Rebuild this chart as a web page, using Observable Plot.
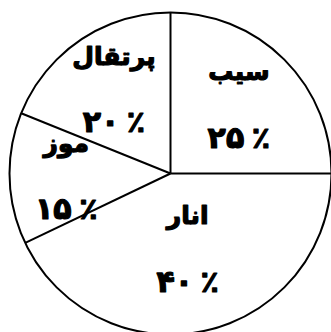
<!DOCTYPE html>
<html><head><meta charset="utf-8">
<script src="https://cdn.jsdelivr.net/npm/d3@7"></script>
<script src="https://cdn.jsdelivr.net/npm/@observablehq/plot@0.6"></script>
<style>html,body{margin:0;padding:0;background:#fff} svg{display:block}</style>
</head><body><div id="chart"></div>
<script>
// Fruits, clockwise from 12 o'clock
const fruits = ["سیب", "انار", "موز", "پرتقال"];
// Percentages printed in the picture
const percents = [25, 40, 15, 20];
// Slice sizes as actually drawn in the picture (percent of the circle)
const sliceShares = [25, 42.9, 13.2, 18.9];

const R = 161;
const fa = n => String(n).replace(/\d/g, c => "۰۱۲۳۴۵۶۷۸۹"[c]);

const rows = fruits.map((name, i) => ({name, pct: percents[i], share: sliceShares[i]}));
const arcs = d3.pie().sort(null).value(d => d.share)(rows);
const boundaries = arcs.map(a => ({x: R * Math.sin(a.startAngle), y: R * Math.cos(a.startAngle)}));
const labels = arcs.map(a => {
  const t = a.endAngle - a.startAngle, m = (a.startAngle + a.endAngle) / 2;
  const d = 4 * R * Math.sin(t / 2) / (3 * t);
  return {name: a.data.name, pct: fa(a.data.pct) + "\u2005٪", x: d * Math.sin(m), y: d * Math.cos(m)};
});

const chart = Plot.plot({
  width: 331, height: 332, margin: 0,
  style: {fontFamily: "'DejaVu Sans', sans-serif", background: "#fff", color: "#000"},
  x: {domain: [-170, 161], axis: null},
  y: {domain: [-159, 173], axis: null},
  marks: [
    Plot.link(boundaries, {x1: 0, y1: 0, x2: "x", y2: "y", stroke: "black", strokeWidth: 2}),
    Plot.dot([{x: 0, y: 0}], {x: "x", y: "y", r: R, stroke: "black", strokeWidth: 2, fill: "none"}),
    Plot.text(labels, {x: "x", y: "y", text: "name", dy: -33, fontSize: 25, fontWeight: "bold", fill: "black", stroke: "black", strokeWidth: 1.2}),
    Plot.text(labels, {x: "x", y: "y", text: "pct", dy: 33, fontSize: 30, fontWeight: "bold", fill: "black", stroke: "black", strokeWidth: 1.2})
  ]
});
document.getElementById("chart").append(chart);
</script>
</body></html>
